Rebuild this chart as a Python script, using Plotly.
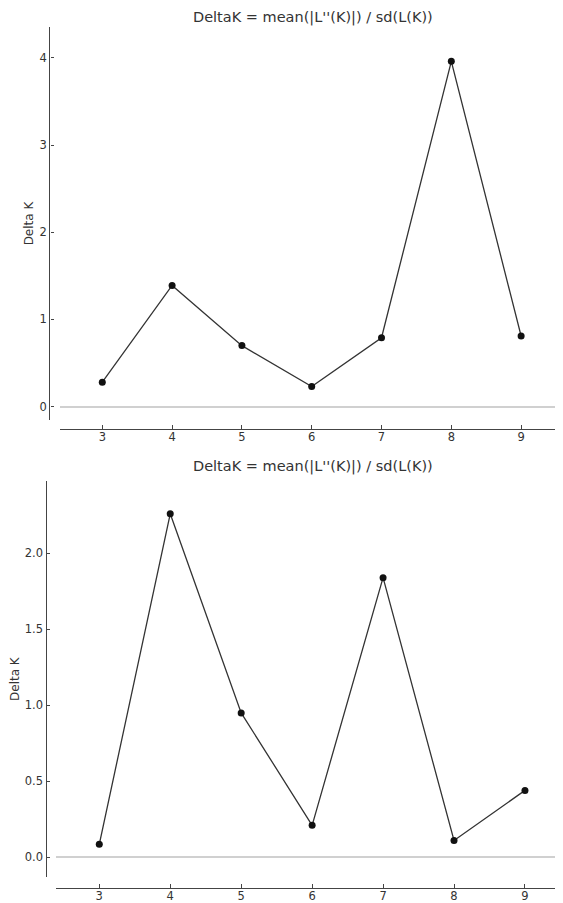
import plotly.graph_objects as go

# Data
k_values = [3, 4, 5, 6, 7, 8, 9]
delta_k_top = [0.28, 1.39, 0.70, 0.23, 0.79, 3.96, 0.81]
delta_k_bottom = [0.085, 2.26, 0.95, 0.21, 1.84, 0.11, 0.44]
top_yticks = [0, 1, 2, 3, 4]
bottom_yticks = [0.0, 0.5, 1.0, 1.5, 2.0]
bottom_yticklabels = ["0.0", "0.5", "1.0", "1.5", "2.0"]
title_text = "DeltaK = mean(|L''(K)|) / sd(L(K))"
y_title = "Delta K"

# The page body adds an 8px margin, so the figure is drawn 8px in from the edge.
OFF = 8
W, H = 563 - OFF, 903 - OFF
FONT = "DejaVu Sans"
LINE_COL = "#333333"
AX_COL = "#444444"


def px(x):
    return (x - OFF) / W


def py(y):
    return 1 - (y - OFF) / H


fig = go.Figure()

line_style = dict(color=LINE_COL, width=1.3)
marker_style = dict(color="#111111", size=7)

fig.add_trace(go.Scatter(x=k_values, y=delta_k_top, mode="lines+markers",
                         line=line_style, marker=marker_style,
                         xaxis="x", yaxis="y", showlegend=False))
fig.add_trace(go.Scatter(x=k_values, y=delta_k_bottom, mode="lines+markers",
                         line=line_style, marker=marker_style,
                         xaxis="x2", yaxis="y2", showlegend=False))

tickfont = dict(family=FONT, size=11.5, color="#333333")

common_x = dict(showgrid=False, zeroline=False, showline=True, linecolor=AX_COL,
                linewidth=1.4, ticks="inside", ticklen=4, tickwidth=1,
                tickcolor=AX_COL, tickvals=k_values, tickfont=tickfont,
                ticklabelstandoff=-3, anchor="free", automargin=False)
common_y = dict(showgrid=False, zeroline=True, zerolinecolor="#d0d0d0",
                zerolinewidth=1.5, showline=True, linecolor=AX_COL,
                linewidth=1.4, ticks="inside", ticklen=3, tickwidth=1,
                tickcolor=AX_COL, tickfont=tickfont, anchor="free",
                automargin=False)

fig.update_layout(
    width=W, height=H,
    margin=dict(l=0, r=0, t=0, b=0),
    paper_bgcolor="white", plot_bgcolor="white",
    font=dict(family=FONT, color="#333333"),
    xaxis=dict(common_x, domain=[px(60), 1.0], range=[2.394, 9.6],
               position=py(429.3)),
    yaxis=dict(common_y, domain=[py(420), py(27)], range=[-0.153, 4.354],
               position=px(49.3), tickvals=top_yticks,
               title=dict(text=y_title, font=dict(family=FONT, size=12, color="#333333"),
                          standoff=2)),
    xaxis2=dict(common_x, domain=[px(56), 1.0], range=[2.39, 9.536],
                position=py(888.3)),
    yaxis2=dict(common_y, domain=[py(877.3), py(481)], range=[-0.132, 2.476],
                position=px(45.5), tickvals=bottom_yticks,
                ticktext=bottom_yticklabels,
                title=dict(text=y_title, font=dict(family=FONT, size=12, color="#333333"),
                           standoff=2)),
    annotations=[
        dict(text=title_text, x=px(313), y=1.0, xref="paper", yref="paper",
             xanchor="center", yanchor="top", showarrow=False, borderpad=0,
             font=dict(family=FONT, size=14.5, color="#333333")),
        dict(text=title_text, x=px(313), y=py(466), xref="paper", yref="paper",
             xanchor="center", yanchor="middle", showarrow=False,
             font=dict(family=FONT, size=14.5, color="#333333")),
    ],
)

fig.write_html("out.html")
